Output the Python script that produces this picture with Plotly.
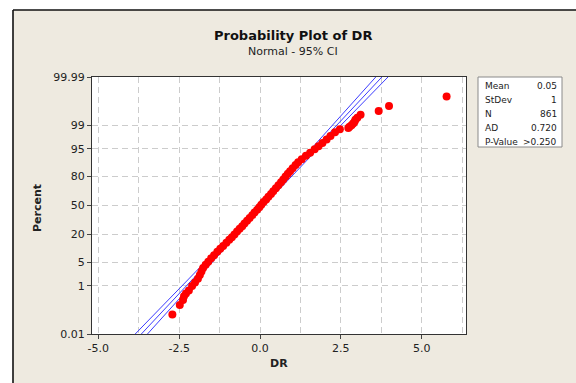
import plotly.graph_objects as go
from statistics import NormalDist

# ---- data ----
pct = [0.081, 0.197, 0.313, 0.429, 0.546, 0.7, 1.0, 1.3, 1.7, 2.2, 2.8, 3.5, 4.3, 5.2, 6.3,
       7.5, 9, 10.5, 12, 14, 16, 18, 20, 22.5, 25, 27.5, 30, 33, 36, 39, 42, 45, 48, 51, 54,
       57, 60, 63, 66, 69, 72, 75, 77.5, 80, 82, 84, 86, 88, 89.5, 91, 92.5, 93.7, 94.8, 95.7, 96.5,
       97.2, 97.8, 98.3, 98.64, 98.76, 98.87, 98.99, 99.11, 99.22, 99.34, 99.45, 99.57,
       99.69, 99.80, 99.92]
dr = [-2.71, -2.48, -2.38, -2.35, -2.29, -2.20, -2.10, -2.01, -1.92, -1.86, -1.81, -1.76, -1.68, -1.60, -1.51,
      -1.42, -1.32, -1.23, -1.14, -1.04, -0.95, -0.87, -0.79, -0.71, -0.63, -0.55, -0.48, -0.40, -0.32, -0.24,
      -0.17, -0.09, -0.02, 0.04, 0.11, 0.19, 0.26, 0.34, 0.41, 0.49, 0.57, 0.65, 0.72, 0.79, 0.86,
      0.93, 1.01, 1.10, 1.18, 1.29, 1.42, 1.55, 1.69, 1.81, 1.93, 2.06, 2.18, 2.32, 2.47,
      2.73, 2.77, 2.83, 2.88, 2.92, 2.95, 3.01, 3.11, 3.67, 3.99, 5.77]

stat_labels = ["Mean", "StDev", "N", "AD", "P-Value"]
stat_values = ["0.05", "1", "861", "0.720", ">0.250"]
mean, sd, n = 0.05, 1.0, 861

y_ticks = [0.01, 1, 5, 20, 50, 80, 95, 99, 99.99]
y_ticktext = ["0.01", "1", "5", "20", "50", "80", "95", "99", "99.99"]
x_ticks = [-5, -2.5, 0, 2.5, 5]
x_ticktext = ["-5.0", "-2.5", "0.0", "2.5", "5.0"]

nd = NormalDist()
def probit(p):
    return nd.inv_cdf(p / 100.0)

ymax = probit(99.99)

# fitted line and 95% CI from the fit parameters
zg = [-3.9 + 0.1 * i for i in range(79)]
fit_x = [mean + z * sd for z in zg]
half = [1.96 * sd * (1.0 / n + z * z / (2.0 * n)) ** 0.5 for z in zg]
lo_x = [f - h for f, h in zip(fit_x, half)]
hi_x = [f + h for f, h in zip(fit_x, half)]

fig = go.Figure()
blue = "#3c3cff"
for xs in (lo_x, fit_x, hi_x):
    fig.add_trace(go.Scatter(x=xs, y=zg, mode="lines", line=dict(color=blue, width=1),
                             hoverinfo="skip"))
fig.add_trace(go.Scatter(x=dr, y=[probit(p) for p in pct], mode="markers",
                         marker=dict(color="#ff0000", size=8, line=dict(width=0))))

L, R, T, B = 92, 110, 77, 49
W, H = 576, 383
pw, ph = W - L - R, H - T - B
def px(x):
    return (x - L) / pw
def py(y):
    return (H - B - y) / ph

grid = dict(gridcolor="#cccccc", griddash="6px,4px", gridwidth=1)
fig.update_layout(
    width=W, height=H, margin=dict(l=L, r=R, t=T, b=B),
    paper_bgcolor="#eeeae0", plot_bgcolor="white", showlegend=False,
    font=dict(family="DejaVu Sans", size=11, color="#222222"),
)
fig.update_xaxes(range=[-5.195, 6.37], tickvals=x_ticks, ticktext=x_ticktext,
                 ticks="outside", ticklen=4, tickcolor="#444", showline=True,
                 linecolor="#333", linewidth=1.3, mirror=True, showgrid=True, zeroline=False,
                 minor=dict(tick0=-5, dtick=1.25, showgrid=True, ticks="", **grid), **grid)
fig.update_yaxes(range=[-ymax, ymax], tickvals=[probit(p) for p in y_ticks], ticktext=y_ticktext,
                 ticks="outside", ticklen=4, tickcolor="#444", showline=True,
                 linecolor="#333", linewidth=1.3, mirror=True, showgrid=True, zeroline=False, **grid)

shapes = [
    dict(type="rect", xref="paper", yref="paper", x0=px(-20), x1=px(13), y0=py(400), y1=py(-20),
         fillcolor="white", line=dict(width=0), layer="above"),
    dict(type="rect", xref="paper", yref="paper", x0=px(-20), x1=px(600), y0=py(10), y1=py(-20),
         fillcolor="white", line=dict(width=0), layer="above"),
    dict(type="line", xref="paper", yref="paper", x0=px(13), x1=px(13), y0=py(400), y1=py(10),
         line=dict(color="#111", width=1.6), layer="above"),
    dict(type="line", xref="paper", yref="paper", x0=px(13), x1=px(600), y0=py(10), y1=py(10),
         line=dict(color="#111", width=1.6), layer="above"),
    dict(type="rect", xref="paper", yref="paper", x0=px(478), x1=px(562), y0=py(147), y1=py(77),
         fillcolor="white", line=dict(color="#8a8a8a", width=1), layer="above"),
]
fig.update_layout(shapes=shapes)

ann = [
    dict(text="<b>Probability Plot of DR</b>", x=px(293), y=py(36), font=dict(size=13, color="#111")),
    dict(text="Normal - 95% CI", x=px(293), y=py(52), font=dict(size=11, color="#222")),
    dict(text="<b>Percent</b>", x=px(37), y=py(208), textangle=-90, font=dict(size=11, color="#222")),
    dict(text="<b>DR</b>", x=px(279), y=py(363), font=dict(size=11, color="#222")),
]
rows = [86, 100, 114, 128, 142]
for lab, val, r in zip(stat_labels, stat_values, rows):
    ann.append(dict(text=lab, x=px(483), y=py(r), xanchor="left", font=dict(size=9, color="#222")))
    ann.append(dict(text=val, x=px(559), y=py(r), xanchor="right", font=dict(size=9, color="#222")))
for a in ann:
    a.setdefault("xanchor", "center")
    a.update(xref="paper", yref="paper", yanchor="middle", showarrow=False)
fig.update_layout(annotations=ann)

fig.write_html("out.html", config={"displayModeBar": False},
               post_script="document.body.style.margin='0';document.body.style.overflow='hidden';")
